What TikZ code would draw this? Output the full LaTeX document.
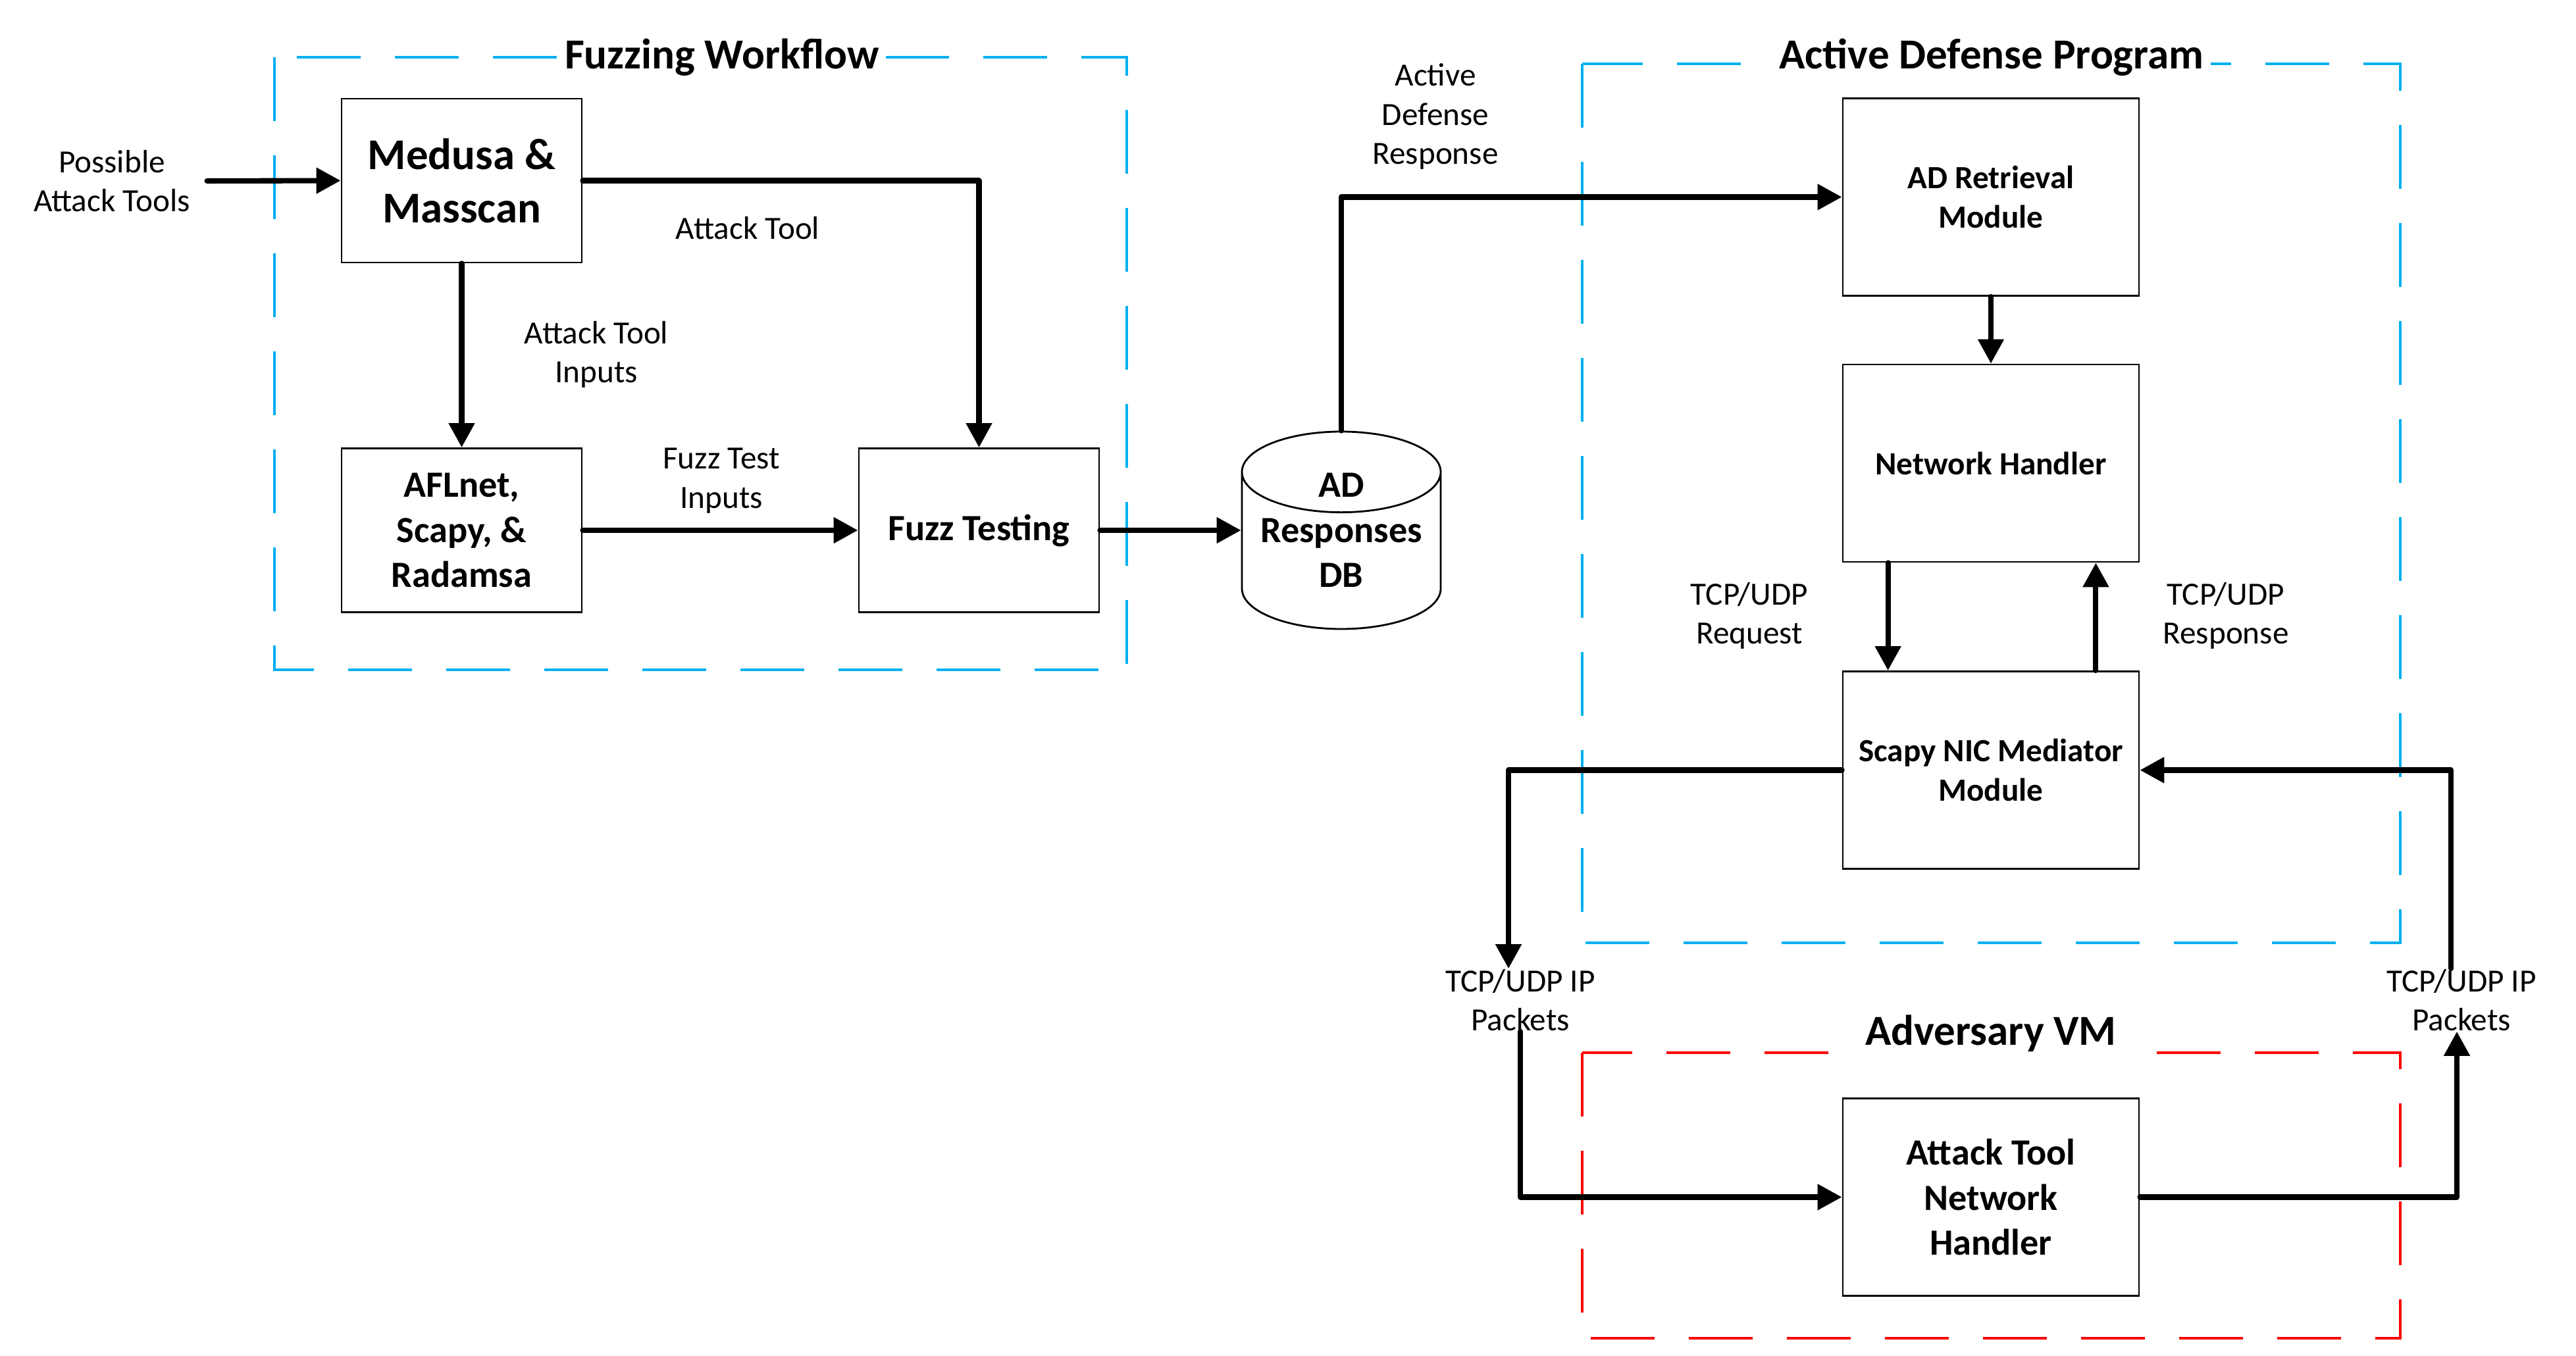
\documentclass[tikz,border=0pt]{standalone}
\usepackage{fontspec}
\setmainfont{Carlito}
\usepackage{xcolor}
\usepackage{tikz}
\usetikzlibrary{arrows.meta,shapes.geometric}

\definecolor{fuzzblue}{HTML}{00B0F0}
\definecolor{advred}{HTML}{FF0000}

\begin{document}
\begin{tikzpicture}[
	box/.style={draw, line width=0.8pt, align=center, minimum width=3.65cm, minimum height=2.49cm, font=\fontsize{16}{19.5}\selectfont\bfseries},
	adbox/.style={box, minimum width=4.5cm, minimum height=3cm, font=\fontsize{14}{17}\selectfont\bfseries},
	dbase/.style={cylinder, shape border rotate=90, aspect=0.5, draw, line width=0.8pt, inner sep=0pt, minimum width=3.02cm, minimum height=3.0cm, font=\fontsize{16}{19.5}\selectfont\bfseries},
	dbtext/.style={align=center, inner sep=0pt, font=\fontsize{16}{19.5}\selectfont\bfseries},
	lbl/.style={align=center, inner sep=0pt, font=\fontsize{14}{17}\selectfont},
	ttl/.style={fill=white, inner xsep=0.1cm, inner ysep=0.05cm, font=\fontsize{18.5}{22}\selectfont\bfseries},
	frame/.style={line width=1.3pt, dash pattern=on 0.97cm off 0.52cm},
	conn/.style={line width=2.3pt, line cap=round, line join=round},
	arr/.style={conn, -{Triangle[length=0.37cm, width=0.38cm]}},
]
	\useasboundingbox (0,0) rectangle (39.14,20.60);

	% dashed frames
	\draw[frame, fuzzblue] (4.17,19.73) rectangle (17.12,10.42);
	\draw[frame, fuzzblue] (24.04,19.63) rectangle (36.47,6.27);
	\draw[frame, advred] (24.04,4.60) rectangle (36.47,0.26);
	\node[ttl] (fwtitle) at (10.97,19.73) {Fuzzing Workflow};
	\node[ttl] (adptitle) at (30.26,19.73) {Active Defense Program};
	\node[ttl] (advtitle) at (30.25,4.89) {Adversary VM};

	% blocks
	\node[box, font=\fontsize{19}{23}\selectfont\bfseries] (medusa) at (7.015,17.855) {Medusa \&\\Masscan};
	\node[box] (afl) at (7.015,12.54) {AFLnet,\\Scapy, \&\\Radamsa};
	\node[box] (fuzz) at (14.875,12.54) {Fuzz Testing};
	\node[dbase, anchor=shape center] (db) at (20.38,12.54) {\phantom{Responses}};
	\node[dbtext] (dbtxt) at (db.shape center) {AD\\Responses\\DB};
	\node[adbox] (adr) at (30.25,17.605) {AD Retrieval\\Module};
	\node[adbox] (nh) at (30.25,13.56) {Network Handler};
	\node[adbox] (scapy) at (30.25,8.895) {Scapy NIC Mediator\\Module};
	\node[adbox, font=\fontsize{16}{19.5}\selectfont\bfseries] (atk) at (30.25,2.405) {Attack Tool\\Network\\Handler};

	% labels
	\node[lbl] (poss) at (1.70,17.85) {Possible\\Attack Tools};
	\node[lbl] (toollbl) at (11.36,17.13) {Attack Tool};
	\node[lbl] (inplbl) at (9.06,15.21) {Attack Tool\\Inputs};
	\node[lbl] (fuzzlbl) at (10.96,13.29) {Fuzz Test\\Inputs};
	\node[lbl] (resplbl) at (21.81,18.83) {Active\\Defense\\Response};
	\node[lbl] (reqlbl) at (26.58,11.24) {TCP/UDP\\Request};
	\node[lbl] (rsplbl) at (33.82,11.24) {TCP/UDP\\Response};
	\node[lbl] (pktl) at (23.10,5.40) {TCP/UDP IP\\Packets};
	\node[lbl] (pktr) at (37.40,5.40) {TCP/UDP IP\\Packets};

	% connectors
	\draw[arr] ([xshift=0.25cm]poss.east) -- (medusa.west);
	\draw[arr] (medusa.east) -| (fuzz.north);
	\draw[arr] (medusa.south) -- (afl.north);
	\draw[arr] (afl.east) -- (fuzz.west);
	\draw[arr] (fuzz.east) -- (fuzz.east -| db.west);
	\draw[arr] (db.north) |- (adr.west);
	\draw[arr] (adr.south) -- (nh.north);
	\draw[arr] ([xshift=0.7cm]nh.south west) -- ([xshift=0.7cm]scapy.north west);
	\draw[arr] ([xshift=-0.67cm]scapy.north east) -- ([xshift=-0.67cm]nh.south east);
	\draw[arr] (scapy.west) -| ([xshift=-0.18cm]pktl.north);
	\draw[arr] (pktl.south) |- (atk.west);
	\draw[arr] (atk.east) -| ([xshift=-0.07cm]pktr.south);
	\draw[arr] ([xshift=-0.16cm]pktr.north) |- (scapy.east);
\end{tikzpicture}
\end{document}
